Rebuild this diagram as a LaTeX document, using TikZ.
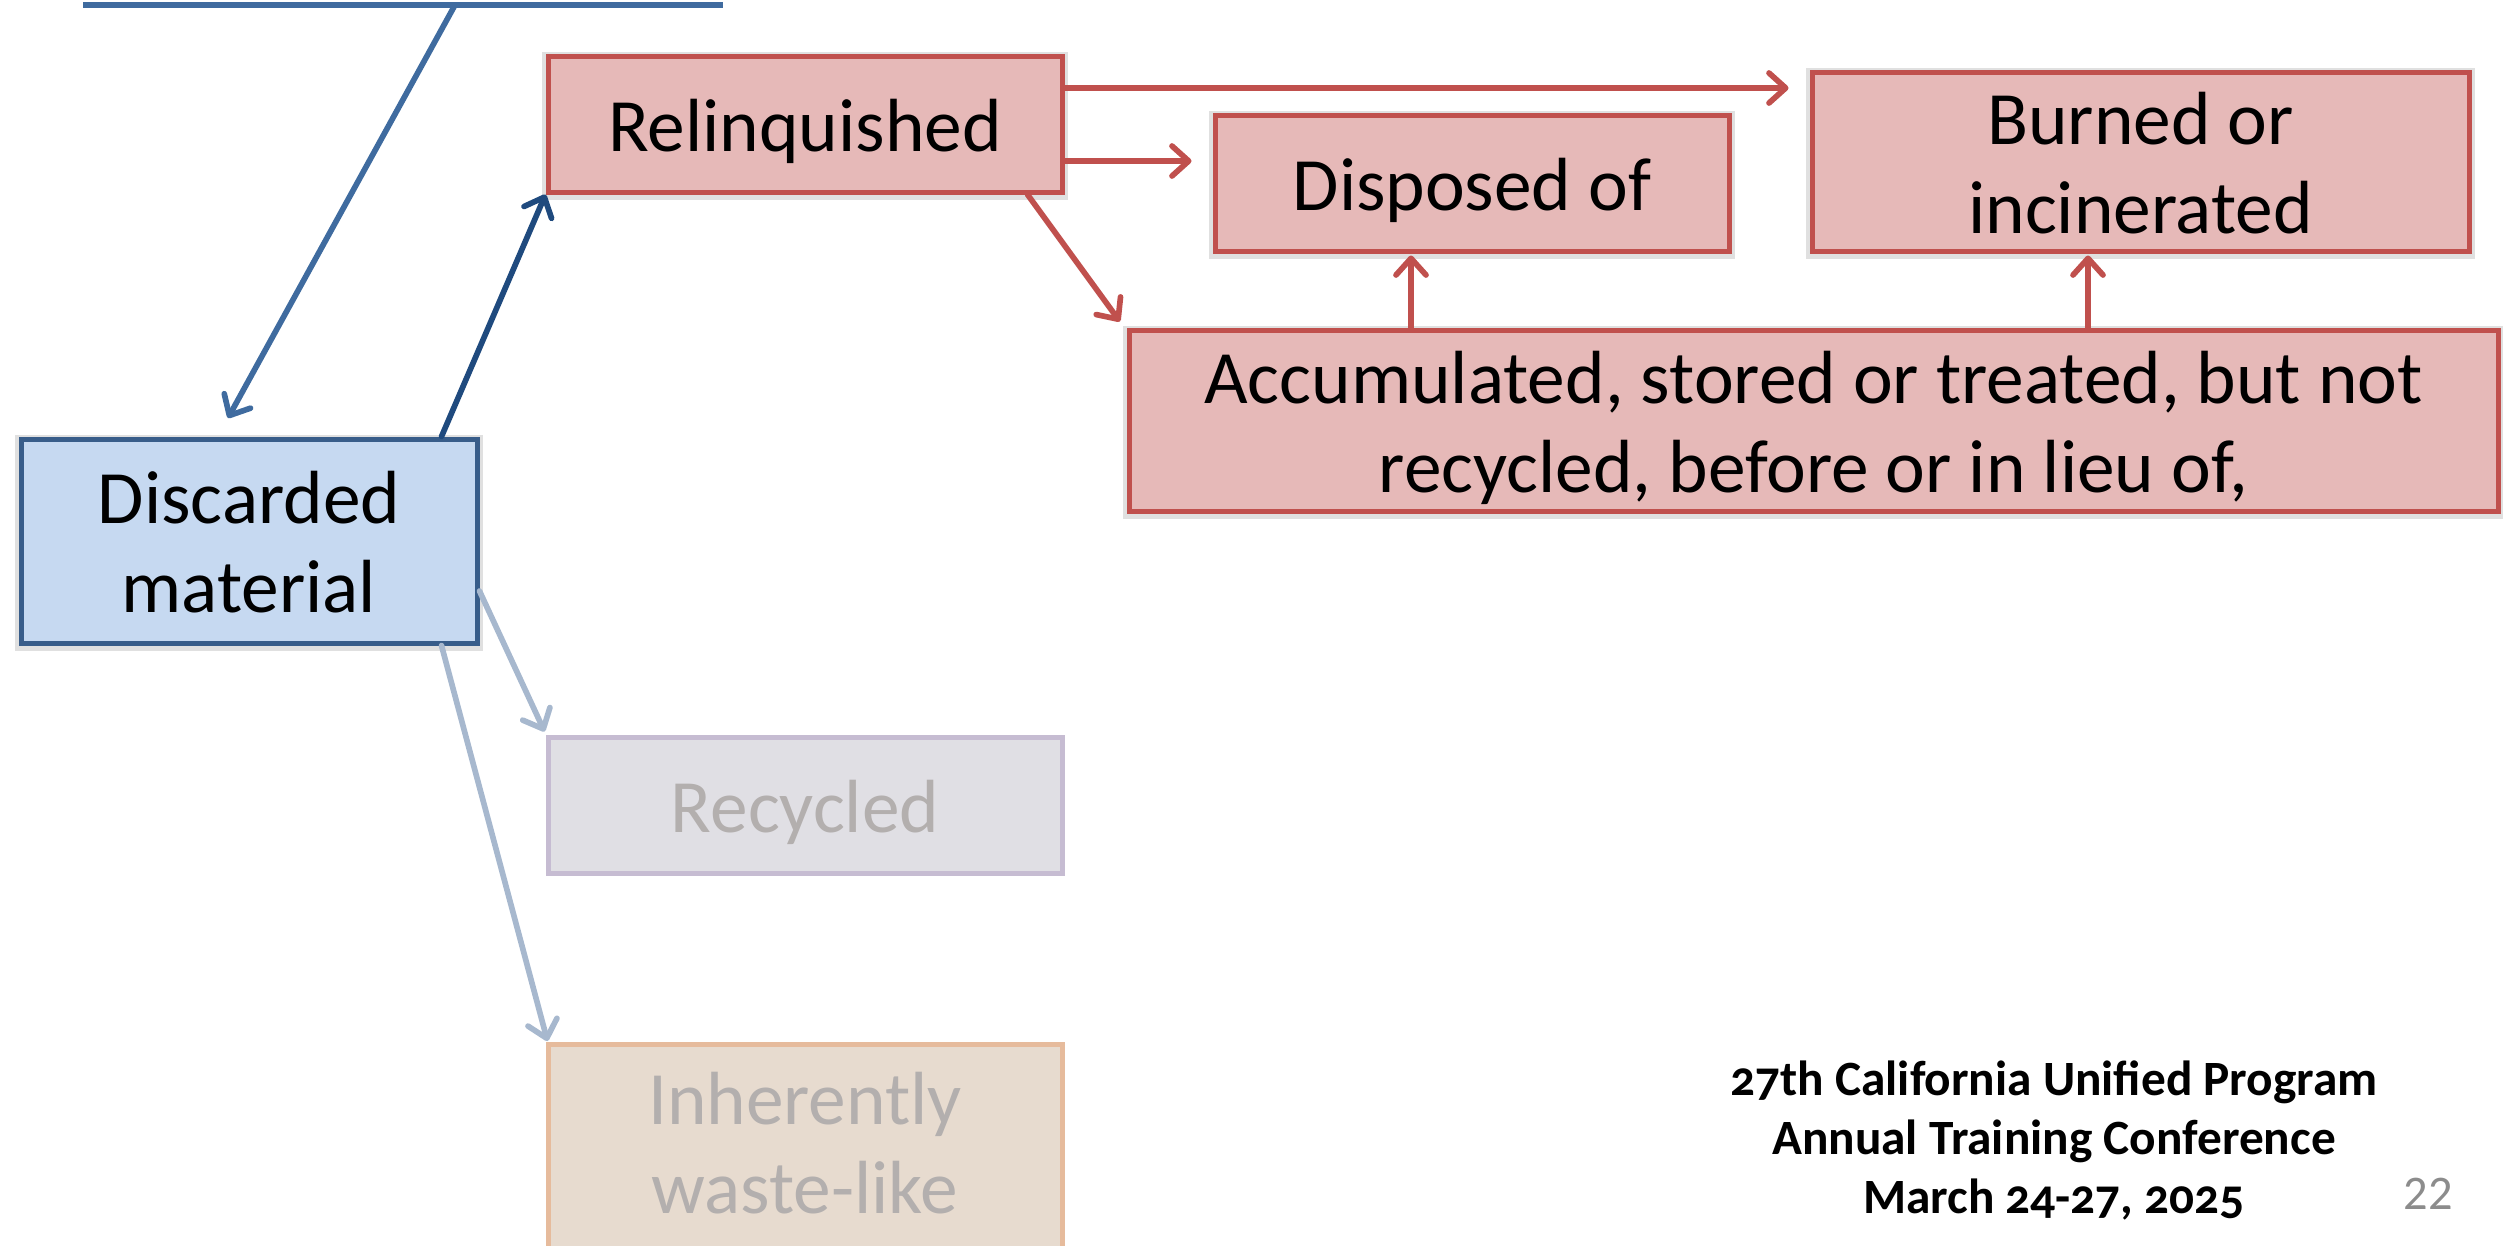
\documentclass[tikz,border=0pt]{standalone}
\usepackage{fontspec}
\setmainfont{Carlito}
\newfontfamily\conffont[Numbers=OldStyle]{Carlito}
\usetikzlibrary{arrows.meta,calc}

\definecolor{bluefill}{HTML}{C6D9F1}
\definecolor{blueline}{HTML}{385D8A}
\definecolor{bluearrow}{HTML}{3F6B9F}
\definecolor{darkarrow}{HTML}{1F4A7E}
\definecolor{redfill}{HTML}{E6B9B8}
\definecolor{redline}{HTML}{C0504D}
\definecolor{recfill}{HTML}{E0DFE4}
\definecolor{recline}{HTML}{C6BCD2}
\definecolor{inhfill}{HTML}{E7DBCF}
\definecolor{inhline}{HTML}{E6BB9C}
\definecolor{fadetext}{HTML}{B3AFAE}
\definecolor{fadearrow}{HTML}{A7B8CE}
\definecolor{pagenum}{HTML}{8C8C8C}

% fixed line strut so every box sets its text at the same height
\newcommand\ls{\rule[-5pt]{0pt}{26.3pt}}
% last-line strut with extra room below, for the box running off the page
\newcommand\lsdeep{\rule[-12.8pt]{0pt}{34.1pt}}

\tikzset{
  boxsize/.style 2 args={minimum width={#1*0.3pt}, minimum height={#2*0.3pt}},
  box/.style={draw, line width=1.5pt, inner sep=0pt, align=center,
    font=\fontsize{22.6}{26.7}\selectfont},
  softshadow/.style={preaction={draw=black, draw opacity=0.12, line width=3.4pt,
    transform canvas={yshift=-0.6pt}}},
  redbox/.style={box, draw=redline, fill=redfill, softshadow},
  bluebox/.style={box, draw=blueline, fill=bluefill, softshadow},
  recbox/.style={box, draw=recline, fill=recfill, text=fadetext},
  inhbox/.style={box, draw=inhline, fill=inhfill, text=fadetext},
  conn/.style={line width=1.7pt, line cap=round,
    -{Straight Barb[length=5pt,width=9pt,round]}},
  redconn/.style={conn, draw=redline},
}

\begin{document}
\begin{tikzpicture}[x=0.3pt, y=-0.3pt]
  \useasboundingbox (0,0) rectangle (2503,1245);
  \clip (0,0) rectangle (2503,1245);

  % boxes
  \node[bluebox, boxsize={456}{204}] (disc) at (249,541) {\ls Discarded\\\ls material};
  \node[redbox, boxsize={514}{136}] (rel) at (805,124) {\ls Relinquished};
  \node[redbox, boxsize={514}{136}] (disp) at (1472,183) {\ls Disposed of};
  \node[redbox, boxsize={657}{179}] (burn) at (2140.5,161.5) {\ls Burned or\\\ls incinerated};
  \node[redbox, boxsize={1369}{181}] (acc) at (1813.5,420.5)
    {\ls Accumulated, stored or treated, but not\\\ls recycled, before or in lieu of,};
  \node[recbox, boxsize={514}{136}] (rec) at (805,805) {\ls Recycled};
  \node[inhbox, boxsize={514}{220}, anchor=north] (inh) at (805,1042) {\ls Inherently\\\lsdeep waste-like};

  % bar at the top and its link down to the discarded material
  \coordinate (barL) at (83,5);
  \coordinate (barR) at (723,5);
  \coordinate (barM) at (455,5);
  \coordinate (discIn) at (228,418);
  \draw[bluearrow, line width=1.8pt] (barL) -- (barR);
  \draw[conn, draw=bluearrow] (barM) -- (discIn);

  % discarded material branches
  \draw[conn, draw=darkarrow] ($(disc.north east)+(-38,0)$) -- (rel.south west);
  \draw[conn, draw=fadearrow] (disc.east |- 0,591) -- ([xshift=-0.3pt,yshift=0.9pt]rec.north west);
  \draw[conn, draw=fadearrow] ($(disc.south east)+(-38,0)$) -- ([xshift=0.6pt,yshift=0.3pt]inh.north west);

  % relinquished branches
  \draw[redconn] (rel.east |- 0,88) -- ([xshift=-6.3pt]burn.west |- 0,88);
  \draw[redconn] (rel.east |- 0,161) -- ([xshift=-6.3pt]disp.west |- 0,161);
  \draw[redconn] ($(rel.south east)+(-37,0)$) -- ([xshift=-2pt,yshift=1.8pt]acc.north west);

  % accumulated leads up to disposal or burning
  \draw[redconn] (acc.north -| 1411,0) -- ([yshift=-0.6pt]disp.south -| 1411,0);
  \draw[redconn] (acc.north -| 2088,0) -- ([yshift=-0.6pt]burn.south -| 2088,0);

  % footer
  \node[align=center, font=\conffont\bfseries\fontsize{14.8}{17.7}\selectfont] (conf) at (2054,1140)
    {27th California Unified Program\\Annual Training Conference\\March 24-27, 2025};
  \node[text=pagenum, font=\fontsize{14.5}{17}\selectfont] (pnum) at (2428,1194) {22};
\end{tikzpicture}
\end{document}
